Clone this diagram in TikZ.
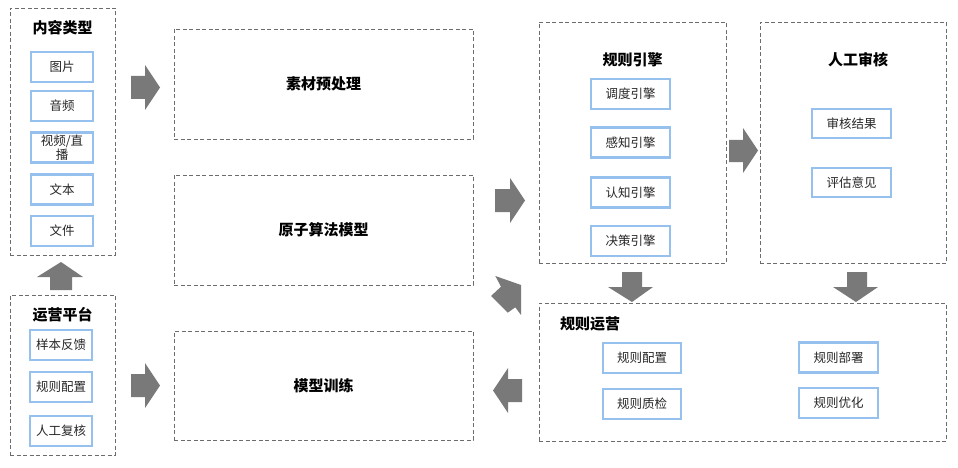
\documentclass[tikz,border=0pt]{standalone}
\usepackage{fontspec}
\setmainfont{Noto Sans CJK SC}
\begin{document}
\begin{tikzpicture}[x=1pt,y=-1pt,
  outer/.style={draw=gray!85!black, dash pattern=on 4pt off 2.5pt, line width=0.8pt, inner sep=0pt, outer sep=0pt},
  item/.style={draw={rgb,255:red,150;green,192;blue,238}, line width=2.2pt, inner sep=0pt, outer sep=0pt, minimum height=30pt, font=\fontsize{12.5}{13.5}\selectfont, text=black!85, align=center},
  ttl/.style={font=\fontsize{15}{16}\selectfont\bfseries, text=black},
  barrow/.style={fill=gray!95!black, draw=none}]
\useasboundingbox (0,0) rectangle (958,468);
% left column
\node[outer, minimum width=105pt, minimum height=247pt] (ct) at (62.5,131.5) {};
\node[ttl] (ctt) at (62.5,28) {内容类型};
\node[item, minimum width=62pt] (c1) at (62,67) {图片};
\node[item, minimum width=62pt] (c2) at (62,106) {音频};
\node[item, minimum width=62pt, font=\fontsize{12.5}{12.5}\selectfont] (c3) at (62,147.5) {视频/直\\播};
\node[item, minimum width=62pt] (c4) at (62,189.5) {文本};
\node[item, minimum width=62pt] (c5) at (62,231) {文件};
\node[outer, minimum width=105pt, minimum height=160pt] (op) at (62.5,375) {};
\node[ttl] (opt) at (62.5,315) {运营平台};
\node[item, minimum width=62pt] (o1) at (61,345) {样本反馈};
\node[item, minimum width=62pt] (o2) at (61,387) {规则配置};
\node[item, minimum width=62pt] (o3) at (61,431) {人工复核};
% middle column
\node[outer, minimum width=299pt, minimum height=110pt] (pre) at (323.5,84) {};
\node[ttl] at (pre.center) {素材预处理};
\node[outer, minimum width=299pt, minimum height=110pt] (atom) at (323.5,230) {};
\node[ttl] at (atom.center) {原子算法模型};
\node[outer, minimum width=299pt, minimum height=109pt] (train) at (323.5,385.5) {};
\node[ttl] at (train.center) {模型训练};
% rule engine
\node[outer, minimum width=187pt, minimum height=241pt] (re) at (632.5,142.5) {};
\node[ttl] (ret) at (632.5,60) {规则引擎};
\node[item, minimum width=79pt] (r1) at (630.5,94) {调度引擎};
\node[item, minimum width=79pt] (r2) at (630.5,142.5) {感知引擎};
\node[item, minimum width=79pt] (r3) at (630.5,192.5) {认知引擎};
\node[item, minimum width=79pt] (r4) at (630.5,241) {决策引擎};
% manual review
\node[outer, minimum width=186pt, minimum height=241pt] (ha) at (853,142.5) {};
\node[ttl] (hat) at (858,60) {人工审核};
\node[item, minimum width=79pt, minimum height=29pt] (h1) at (851.5,123.5) {审核结果};
\node[item, minimum width=79pt, minimum height=29pt] (h2) at (851.5,182.5) {评估意见};
% rule operation
\node[outer, minimum width=407pt, minimum height=138pt] (ro) at (742.5,372) {};
\node[ttl] (rot) at (590,324) {规则运营};
\node[item, minimum width=78pt] (p1) at (642,358) {规则配置};
\node[item, minimum width=78pt] (p2) at (642,404) {规则质检};
\node[item, minimum width=79pt] (p3) at (838.5,357.5) {规则部署};
\node[item, minimum width=79pt] (p4) at (838.5,403) {规则优化};
% block arrows
% up: op -> ct
\fill[barrow] (50,290) -- (50,277) -- (37,277) -- (61,262) -- (83,277) -- (72,277) -- (72,290) -- cycle;
% right: ct -> pre
\fill[barrow] (131,76) -- (145,76) -- (145,65) -- (160,87.5) -- (145,110) -- (145,99) -- (131,99) -- cycle;
% right: op -> train
\fill[barrow] (131,374) -- (145,374) -- (145,363) -- (160,385.5) -- (145,408) -- (145,397) -- (131,397) -- cycle;
% right: middle -> re
\fill[barrow] (495,189) -- (510,189) -- (510,178) -- (525,200.5) -- (510,223) -- (510,212) -- (495,212) -- cycle;
% right: re -> ha
\fill[barrow] (729,140) -- (743,140) -- (743,128) -- (758,150.5) -- (743,173) -- (743,162) -- (729,162) -- cycle;
% left: ro -> train
\fill[barrow] (522,379) -- (508,379) -- (508,368) -- (493,390.5) -- (508,413) -- (508,402) -- (522,402) -- cycle;
% down: re -> ro
\fill[barrow] (622,272) -- (642,272) -- (642,287) -- (653,287) -- (632,302) -- (608,287) -- (622,287) -- cycle;
% down: ha -> ro
\fill[barrow] (847,272) -- (867,272) -- (867,287) -- (878,287) -- (856,302) -- (833,287) -- (847,287) -- cycle;
% diagonal: ro -> atom
\fill[barrow] (491,296) -- (501,286.7) -- (495.3,276) -- (521,285) -- (521,315) -- (515.3,307.3) -- (507.7,312.7) -- cycle;
\end{tikzpicture}
\end{document}
